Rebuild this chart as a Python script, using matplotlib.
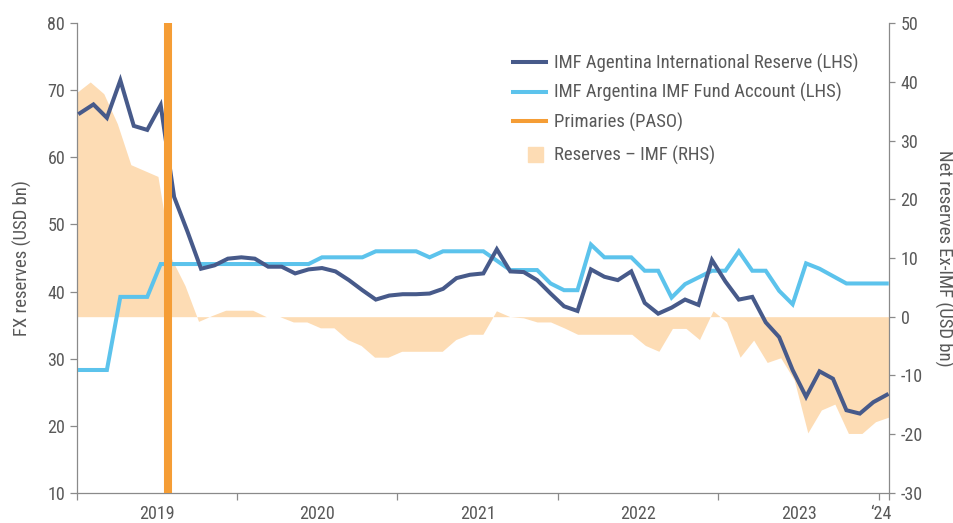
import numpy as np
import matplotlib
matplotlib.use("Agg")
import matplotlib.pyplot as plt
import matplotlib.patches as mpatches
from matplotlib.lines import Line2D
from matplotlib.legend_handler import HandlerPatch

plt.rcParams['font.family'] = ['Liberation Sans Narrow', 'Roboto Condensed', 'DejaVu Sans']
plt.rcParams['axes.unicode_minus'] = False

# ---- data (monthly, Jan 2019 .. Jan 2024) ----
months = np.arange(61)
intl_reserve = [66.6, 67.9, 65.9, 71.5, 64.7, 64.1, 67.8, 54.1, 48.9, 43.4,
                43.9, 44.9, 45.1, 44.9, 43.7, 43.7, 42.7, 43.3, 43.5, 43.0,
                41.7, 40.2, 38.8, 39.4, 39.6, 39.6, 39.7, 40.4, 42.0, 42.5,
                42.7, 46.3, 43.0, 42.9, 41.7, 39.7, 37.8, 37.1, 43.3, 42.2,
                41.7, 43.0, 38.3, 36.7, 37.6, 38.8, 38.0, 44.7, 41.5, 38.8,
                39.2, 35.4, 33.2, 28.3, 24.3, 28.1, 27.0, 22.3, 21.8, 23.5,
                24.6]
fund_account = [28.3, 28.3, 28.3, 39.2, 39.2, 39.2, 44.1, 44.1, 44.1, 44.1,
                44.1, 44.1, 44.1, 44.1, 44.1, 44.1, 44.1, 44.1, 45.1, 45.1,
                45.1, 45.1, 46.0, 46.0, 46.0, 46.0, 45.1, 46.0, 46.0, 46.0,
                46.0, 44.6, 43.2, 43.2, 43.2, 41.2, 40.2, 40.2, 47.0, 45.1,
                45.1, 45.1, 43.1, 43.1, 39.1, 41.1, 42.1, 43.1, 43.1, 46.0,
                43.1, 43.1, 40.1, 38.1, 44.2, 43.4, 42.3, 41.2, 41.2, 41.2,
                41.2]
net_ex_imf = [38.2, 40.0, 38.0, 32.9, 25.9, 24.9, 23.9, 9.9, 5.3, -0.8,
              0.2, 1.1, 1.1, 1.1, 0.0, 0.0, -0.9, -0.9, -1.9, -1.9,
              -3.9, -4.9, -6.9, -6.9, -5.9, -5.9, -5.9, -5.9, -3.9, -3.0,
              -3.0, 1.0, 0.0, -0.2, -0.9, -0.9, -1.9, -3.0, -3.0, -3.0,
              -3.0, -3.0, -4.9, -5.9, -2.0, -2.0, -3.9, 1.0, -0.9, -6.9,
              -4.0, -7.8, -7.0, -10.8, -19.8, -15.9, -14.9, -19.9, -19.9, -17.9,
              -17.1]
paso_month = 6.55
year_labels = ['2019', '2020', '2021', '2022', '2023', '\u201824']
left_ticks = [10, 20, 30, 40, 50, 60, 70, 80]
right_ticks = [-30, -20, -10, 0, 10, 20, 30, 40, 50]
labels = ['IMF Agentina International Reserve (LHS)',
          'IMF Argentina IMF Fund Account (LHS)',
          'Primaries (PASO)',
          'Reserves \u2013 IMF (RHS)']

# ---- style ----
C_DARK = '#475a8a'
C_LIGHT = '#5cc3ec'
C_ORANGE = '#f59d35'
C_FILL = '#fddcb4'
C_AXIS = '#8a8a8a'
C_TEXT = '#595959'

x_lo, x_hi = -0.245, 60.17
year_ticks = [-0.245, 11.68, 23.58, 35.55, 47.45, 59.42, 60.17]
label_pos = [5.72, 17.63, 29.57, 41.5, 53.44, 59.55]

fig = plt.figure(figsize=(9.54, 5.23), dpi=100)
ax = fig.add_axes([0.0804, 0.0579, 0.8515, 0.8976])
ax2 = ax.twinx()
ax.set_zorder(ax2.get_zorder() + 1)
ax.patch.set_visible(False)

fill_x = np.linspace(x_lo, x_hi, len(net_ex_imf))
ax2.fill_between(fill_x, 0, net_ex_imf, color=C_FILL, lw=0)

ax.plot(months, fund_account, color=C_LIGHT, lw=2.9, solid_joinstyle='miter', zorder=3)
ax.plot(months, intl_reserve, color=C_DARK, lw=2.9, solid_joinstyle='miter', zorder=4)
ax.axvline(paso_month, color=C_ORANGE, lw=5.8, solid_capstyle='butt', zorder=5)

ax.set_xlim(x_lo, x_hi)
ax.set_ylim(10, 80)
ax.set_yticks(left_ticks)
ax2.set_ylim(-30, 50)
ax2.set_yticks(right_ticks)

ax.set_xticks(year_ticks)
ax.set_xticklabels([])
ax.set_xticks(label_pos, minor=True)
ax.set_xticklabels(year_labels, minor=True)
ax.tick_params(axis='x', which='major', length=5, width=0.9, color=C_AXIS)
ax.tick_params(axis='x', which='minor', length=0, pad=8.5, labelsize=13, labelcolor=C_TEXT)
ax.tick_params(axis='y', length=5.3, width=0.9, color=C_AXIS, pad=3, labelsize=13, labelcolor=C_TEXT)
ax2.tick_params(axis='y', length=4.3, width=0.9, color=C_AXIS, pad=4, labelsize=13, labelcolor=C_TEXT)

for s in ['top', 'right']:
    ax.spines[s].set_visible(False)
for s in ['top', 'left', 'bottom']:
    ax2.spines[s].set_visible(False)
for sp in [ax.spines['left'], ax.spines['bottom'], ax2.spines['right']]:
    sp.set_color(C_AXIS)
    sp.set_linewidth(0.9)

ax.set_ylabel('FX reserves (USD bn)', fontsize=13.5, color=C_TEXT, labelpad=11)
ax2.set_ylabel('Net reserves Ex-IMF (USD bn)', fontsize=13.5, color=C_TEXT,
               rotation=270, va='bottom', labelpad=8)

# ---- legends ----
h_lines = [Line2D([], [], color=C_DARK, lw=2.9),
           Line2D([], [], color=C_LIGHT, lw=2.9),
           Line2D([], [], color=C_ORANGE, lw=2.9)]
leg1 = ax.legend(h_lines, labels[:3], loc='upper left', bbox_to_anchor=(0.5371, 0.935),
                 frameon=False, fontsize=13.5, handlelength=1.75, handletextpad=0.45,
                 labelspacing=0.55, borderpad=0, borderaxespad=0, labelcolor=C_TEXT)
ax.add_artist(leg1)


def square_patch(legend, orig_handle, xdescent, ydescent, width, height, fontsize):
    s = 10.8
    return mpatches.Rectangle((width - xdescent - s - 2.2, -ydescent + height / 2 - s / 2), s, s)


h_fill = mpatches.Patch(color=C_FILL)
ax.legend([h_fill], labels[3:], loc='upper left', bbox_to_anchor=(0.5371, 0.739),
          frameon=False, fontsize=13.5, handlelength=1.75, handletextpad=0.45,
          borderpad=0, borderaxespad=0, labelcolor=C_TEXT,
          handler_map={mpatches.Patch: HandlerPatch(patch_func=square_patch)})

fig.savefig('out.png', dpi=100)
